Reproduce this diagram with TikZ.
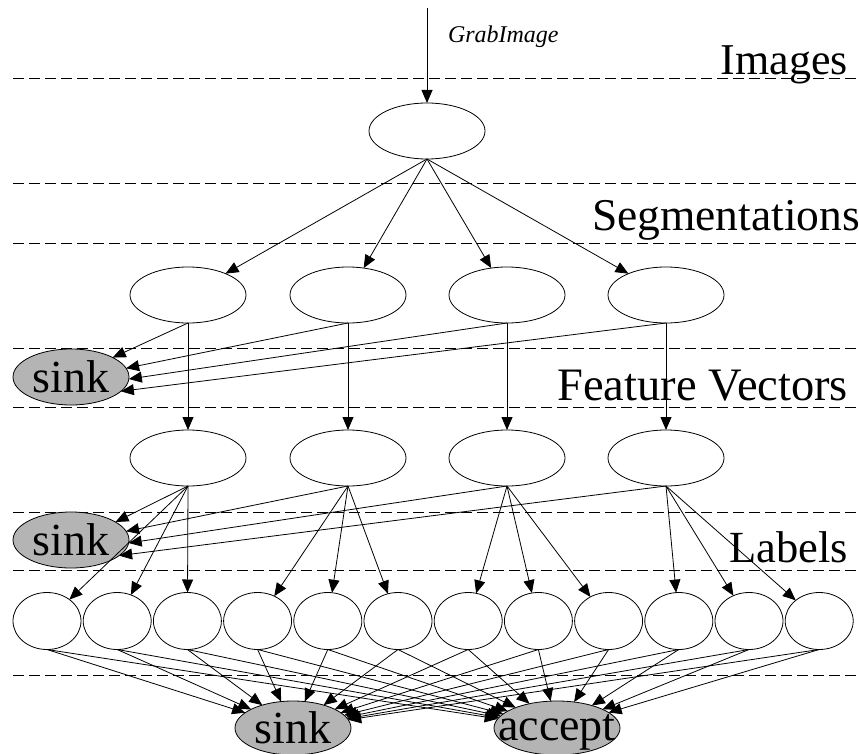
\documentclass[tikz,border=0pt]{standalone}
\usepackage{fontspec}
\setmainfont{Liberation Serif}
\usetikzlibrary{arrows.meta,shapes.geometric}
\definecolor{sinkgray}{RGB}{180,180,180}
\begin{document}
\begin{tikzpicture}[x=1pt,y=-1pt,
  every node/.style={inner sep=0pt,outer sep=0pt},
  sep/.style={dashed,dash pattern=on 11pt off 5pt,line width=1pt},
  oval/.style={draw,ellipse,line width=0.8pt,minimum width=116pt,minimum height=56pt},
  lab/.style={draw,ellipse,line width=0.8pt,minimum width=68pt,minimum height=57pt},
  grey/.style={oval,fill=sinkgray},
  edge/.style={line width=0.8pt,-{Triangle[length=13pt,width=11pt]}},
  word/.style={anchor=base east}]
\useasboundingbox (0,0) rectangle (859,754);
% separator lines
\foreach \yy in {79,184,243,348,407,512,570,675}
  \draw[sep] (13,\yy) -- (859,\yy);
% layer titles
\node[word,font=\fontsize{44}{50}\selectfont] (tImages) at (848,75) {Images};
\node[word,font=\fontsize{45.5}{50}\selectfont] (tSeg) at (860,230) {Segmentations};
\node[word,font=\fontsize{46.5}{50}\selectfont] (tFeat) at (848,400) {Feature Vectors};
\node[word,font=\fontsize{44.5}{50}\selectfont] (tLab) at (848,562) {Labels};
% nodes
\coordinate (start) at (427,8);
\node[font=\fontsize{24}{26}\selectfont\itshape,anchor=base west] (grab) at (448,43) {GrabImage};
\node[oval] (top) at (427,131) {};
\foreach \i/\x in {1/188,2/348,3/507,4/666}{
  \node[oval] (s\i) at (\x,295) {};
  \node[oval] (f\i) at (\x,458) {};
}
\node[grey] (skA) at (71,377) {\smash{\makebox[0pt]{\raisebox{-15pt}{\fontsize{46}{50}\selectfont sink}}}};
\node[grey] (skB) at (71,540) {\smash{\makebox[0pt]{\raisebox{-15pt}{\fontsize{46}{50}\selectfont sink}}}};
\foreach \j in {1,...,12}
  \node[lab] (l\j) at ({47+70.2*(\j-1)},621) {};
\node[grey,minimum height=54pt] (skC) at (293,728) {\smash{\makebox[0pt]{\raisebox{-15pt}{\fontsize{46}{50}\selectfont sink}}}};
\node[grey,minimum width=126pt,minimum height=54pt] (acc) at (557,728) {\smash{\makebox[0pt]{\raisebox{-12pt}{\fontsize{46}{50}\selectfont accept}}}};
% edges
\draw[edge] (start) -- (top);
\foreach \i in {1,...,4}{
  \draw[edge] (top.south) -- (s\i);
  \draw[edge] (s\i.south) -- (f\i.north);
}
\draw[edge] (s1.south) -- (skA.25);
\draw[edge] (s2.south) -- (skA.9);
\draw[edge] (s3.south) -- (skA.-2);
\draw[edge] (s4.south) -- (skA.-16);
\draw[edge] (f1.south) -- (skB.22);
\draw[edge] (f2.south) -- (skB.9);
\draw[edge] (f3.south) -- (skB.-3);
\draw[edge] (f4.south) -- (skB.-18);
\foreach \i in {1,...,4}{
  \foreach \k in {1,2,3}{
    \pgfmathtruncatemacro{\j}{3*(\i-1)+\k}
    \draw[edge] (f\i.south) -- (l\j);
  }
}
\foreach \j in {1,...,12}{
  \draw[edge] (l\j.south) -- (skC);
  \draw[edge] (l\j.south) -- (acc);
}
\end{tikzpicture}
\end{document}
